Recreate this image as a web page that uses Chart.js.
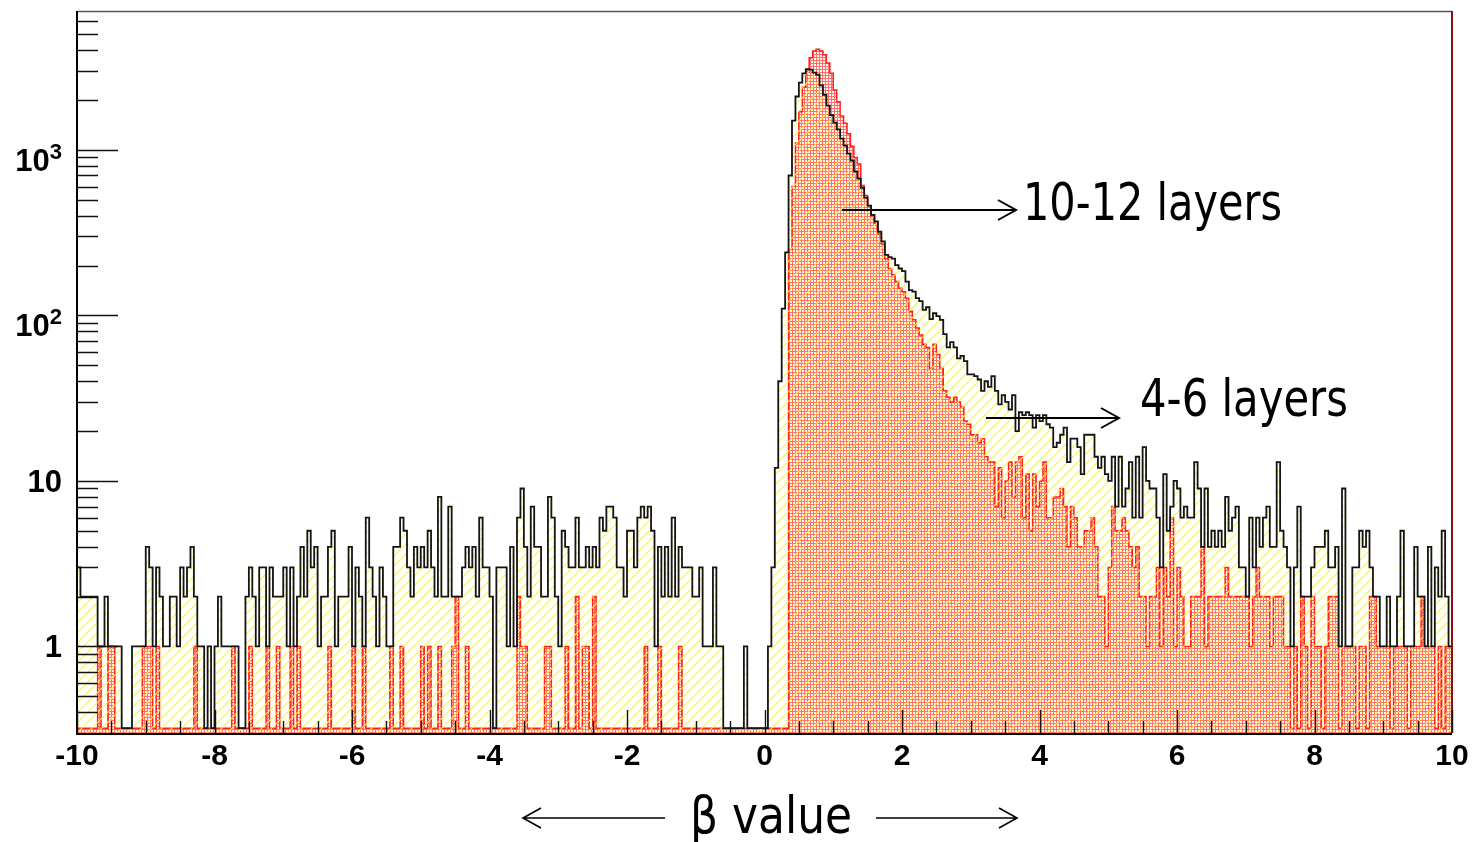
<!DOCTYPE html>
<html>
<head>
<meta charset="utf-8">
<script src="https://cdn.jsdelivr.net/npm/chart.js@4.4.1/dist/chart.umd.min.js"></script>
<style>
  html, body { margin: 0; padding: 0; background: #ffffff; }
  #wrap { width: 1482px; height: 842px; position: relative; }
  canvas { display: block; }
</style>
</head>
<body>
<div id="wrap"><canvas id="beta" width="1482" height="842"></canvas></div>
<script>
// Histogram binning of the beta value
const X_MIN = -10;
const X_MAX = 10;
const BIN_WIDTH = 0.05;
const Y_MIN = 0.321;
const Y_MAX = 6900;

// Axis tick labels
const xTickLabels = [-10, -8, -6, -4, -2, 0, 2, 4, 6, 8, 10];
const yTickLabels = [
  { value: 1, base: '1', exp: '' },
  { value: 10, base: '10', exp: '' },
  { value: 100, base: '10', exp: '2' },
  { value: 1000, base: '10', exp: '3' }
];

// Entries per bin, tracks with 4-6 layers, beta from -10 to 0
const layers46Neg = [
  3,2,2,2,2,2,1,1,2,1,1,1,1,0,0,0,1,1,1,1,
  4,3,1,3,2,1,1,2,2,1,3,2,3,4,2,1,1,0,1,0,
  1,2,1,1,1,1,1,0,0,2,3,2,1,3,3,1,3,2,2,2,
  3,1,3,1,2,4,2,5,3,4,1,2,2,4,5,1,2,2,2,4,
  1,3,2,1,6,3,2,1,3,2,1,1,4,4,6,5,3,2,4,3,
  4,3,5,3,2,8,2,2,7,2,2,2,3,4,3,4,2,6,3,3,
  2,0,3,3,3,1,4,1,6,9,4,2,7,4,4,2,2,8,6,2,
  1,5,4,3,3,6,3,3,4,3,4,3,6,5,7,7,6,3,3,2,
  5,5,3,6,7,6,7,5,1,4,2,4,2,6,2,4,3,3,3,2,
  2,3,1,1,1,3,1,1,0,0,0,0,0,0,1,0,0,0,0,0
];
// Entries per bin, tracks with 4-6 layers, beta from 0 to 10
const layers46Pos = [
  0,1,3,12,40,110,240,700,1500,2100,
  2550,2900,3070,3050,2930,2850,2450,2150,1850,1620,
  1460,1330,1170,1060,950,860,740,670,590,515,
  460,405,370,320,280,232,225,220,201,192,
  185,160,142,139,127,122,108,112,95,103,
  99,94,77,64,69,64,55,57,53,44,
  44,43,41,35,40,37,43,35,29,33,
  30,27,33,20,26,25,26,25,21,25,
  23,25,22,
  21,16,17,19,21,13,18,18,16,11,
  19,19,19,14,12,14,11,10,14,7,
  14,7,9,13,6,14,6,16,10,9,
  9,6,3,11,5,7,10,9,6,7,
  6,6,13,9,4,9,4,5,4,5,
  4,8,5,6,7,3,3,2,6,3,
  6,4,6,7,4,4,13,5,4,3,
  1,3,7,2,2,2,3,4,4,4,
  5,3,3,4,1,9,1,1,3,3,
  5,4,5,3,2,2,1,1,2,1,
  1,2,5,1,1,1,4,2,2,1,
  4,1,3,2,5,2,1
];

// Entries per bin, tracks with 10-12 layers, beta from -10 to 0
const layers1012Neg = [
  0,0,0,0,0,0,1,0,0,1,1,0,0,0,0,0,0,0,0,1,
  1,1,0,1,0,0,0,0,0,0,0,0,0,0,1,0,0,0,0,0,
  0,0,0,0,0,1,0,0,0,0,1,0,0,0,0,1,0,0,1,0,
  0,0,1,0,1,0,0,0,0,0,0,0,0,1,0,0,0,0,0,0,
  1,0,0,1,0,0,0,0,0,0,0,1,0,0,1,0,0,0,0,0,
  1,0,1,0,0,1,0,0,0,1,2,0,0,1,0,0,0,0,0,0,
  0,0,0,0,0,0,0,0,2,1,1,0,0,0,0,0,1,1,0,0,
  0,0,1,0,0,2,0,1,1,0,2,0,0,0,0,0,0,0,0,0,
  0,0,0,0,0,1,0,0,0,1,0,0,0,0,0,1,0,0,0,0,
  0,0,0,0,0,0,0,0,0,0,0,0,0,0,0,0,0,0,0,0
];
// Entries per bin, tracks with 10-12 layers, beta from 0 to 10
const layers1012Pos = [
  0,0,0,0,0,0,0,
  250,600,1100,1700,2400,3000,3600,3950,4050,3950,
  3750,3350,2900,2300,1950,1600,1450,1250,1050,900,
  820,610,530,460,400,360,310,270,
  220,192,176,160,146,139,127,106,94,84,
  76,67,64,48,67,58,48,35,32,30,
  32,30,28,23,22,19,19,17,18,14,13,
  13,7,12,6,10,13,8,13,14,6,11,5,11,7,10,13,6,
  6,8,8,9,7,4,7,6,4,4,
  5,5,6,4,2,2,1,3,7,5,
  5,6,5,4,3,4,2,2,1,2,
  2,3,1,3,2,6,1,3,2,1,
  1,2,2,2,4,1,2,2,2,2,
  2,3,2,2,2,2,2,2,1,2,
  3,2,2,2,1,2,2,2,1,1,
  0,1,0,2,1,0,2,1,1,0,
  1,2,2,2,0,1,1,1,1,0,
  1,1,0,2,2,1,1,1,1,0,
  1,1,1,1,0,1,1,1,2,1,
  1,1,0,1,0,1,1
];

const layers46 = layers46Neg.concat(layers46Pos);
const layers1012 = layers1012Neg.concat(layers1012Pos);

// Step points: one per lower bin edge plus the last upper edge.
// Empty bins sit on the axis floor (a log axis has no zero).
function toSteps(counts) {
  const floorOf = v => (v > 0 ? v : Y_MIN);
  const pts = counts.map((v, i) => ({ x: X_MIN + i * BIN_WIDTH, y: floorOf(v) }));
  pts.push({ x: X_MIN + counts.length * BIN_WIDTH, y: floorOf(counts[counts.length - 1]) });
  return pts;
}

// Fill styles: yellow diagonal hatch and red dotted mesh
function makeHatch() {
  const c = document.createElement('canvas');
  c.width = 10; c.height = 10;
  const g = c.getContext('2d');
  g.strokeStyle = '#ffff00';
  g.lineWidth = 1.1;
  g.beginPath();
  g.moveTo(-2, 12); g.lineTo(12, -2);
  g.moveTo(-7, 7); g.lineTo(7, -7);
  g.moveTo(3, 17); g.lineTo(17, 3);
  g.stroke();
  return g.createPattern(c, 'repeat');
}
function makeDots() {
  const c = document.createElement('canvas');
  c.width = 3; c.height = 3;
  const g = c.getContext('2d');
  g.fillStyle = '#fff6f4';
  g.fillRect(0, 0, 3, 3);
  g.fillStyle = '#ff7068';
  g.fillRect(0, 0, 3, 1);
  g.fillRect(0, 0, 1, 3);
  return g.createPattern(c, 'repeat');
}

function arrowLine(ctx, x0, x1, y, headAtEnd) {
  ctx.beginPath();
  ctx.moveTo(x0, y);
  ctx.lineTo(x1, y);
  const hx = headAtEnd ? x1 : x0;
  const d = headAtEnd ? -18 : 18;
  ctx.moveTo(hx + d, y - 10);
  ctx.lineTo(hx, y);
  ctx.lineTo(hx + d, y + 10);
  ctx.stroke();
}

function fittedText(ctx, text, x, baseline, size, width) {
  ctx.save();
  ctx.font = size + 'px "DejaVu Sans", "Noto Sans", sans-serif';
  ctx.textAlign = 'left';
  ctx.textBaseline = 'alphabetic';
  const w = ctx.measureText(text).width;
  ctx.translate(x, baseline);
  ctx.scale(width / w, 1);
  ctx.fillStyle = '#000';
  ctx.fillText(text, 0, 0);
  ctx.restore();
}

// Frame, ROOT-style ticks, tick labels and annotations
const frameAndLabels = {
  id: 'frameAndLabels',
  afterDatasetsDraw(chart) {
    const ctx = chart.ctx;
    const xs = chart.scales.x, ys = chart.scales.y;
    const L = chart.chartArea.left, R = chart.chartArea.right;
    const T = chart.chartArea.top, B = chart.chartArea.bottom;
    ctx.save();

    // frame
    ctx.lineCap = 'butt';
    ctx.strokeStyle = '#555';
    ctx.lineWidth = 1.5;
    ctx.beginPath(); ctx.moveTo(L, T + 0.5); ctx.lineTo(R, T + 0.5); ctx.stroke();
    ctx.strokeStyle = '#8b1010';
    ctx.lineWidth = 2;
    ctx.beginPath(); ctx.moveTo(R, T); ctx.lineTo(R, B); ctx.stroke();
    ctx.strokeStyle = '#000';
    ctx.lineWidth = 2;
    ctx.beginPath(); ctx.moveTo(L, T); ctx.lineTo(L, B + 1); ctx.lineTo(R, B + 1); ctx.stroke();

    // y ticks (log): long at decades, short at 2..9
    ctx.strokeStyle = '#111';
    ctx.lineWidth = 1.4;
    ctx.beginPath();
    for (let d = -1; d <= 3; d++) {
      for (let m = 1; m <= 9; m++) {
        const v = m * Math.pow(10, d);
        if (v < Y_MIN || v > Y_MAX) continue;
        const y = Math.round(ys.getPixelForValue(v)) + 0.5;
        const len = m === 1 ? 41 : 21;
        ctx.moveTo(L, y); ctx.lineTo(L + len, y);
      }
    }
    ctx.stroke();

    // x ticks every 0.5, long every 2
    ctx.beginPath();
    for (let k = -20; k <= 20; k++) {
      const t = k / 2;
      const x = Math.round(xs.getPixelForValue(t)) + 0.5;
      const len = (k % 4 === 0) ? 23 : 12;
      ctx.moveTo(x, B); ctx.lineTo(x, B - len);
    }
    ctx.stroke();

    // x tick labels
    ctx.fillStyle = '#000';
    ctx.font = 'bold 30px "Liberation Sans", Arial, sans-serif';
    ctx.textAlign = 'center';
    ctx.textBaseline = 'alphabetic';
    xTickLabels.forEach(v => {
      ctx.fillText(String(v), xs.getPixelForValue(v), 765);
    });

    // y tick labels with exponents
    ctx.textAlign = 'right';
    yTickLabels.forEach(lab => {
      const y = ys.getPixelForValue(lab.value);
      if (lab.exp) {
        ctx.font = 'bold 22px "Liberation Sans", Arial, sans-serif';
        const ew = ctx.measureText(lab.exp).width;
        ctx.fillText(lab.exp, 62, y + 9);
        ctx.font = 'bold 31px "Liberation Sans", Arial, sans-serif';
        ctx.fillText(lab.base, 62 - ew, y + 21);
      } else {
        ctx.font = 'bold 31px "Liberation Sans", Arial, sans-serif';
        ctx.fillText(lab.base, 62, y + 11);
      }
    });

    // annotations
    ctx.strokeStyle = '#000';
    ctx.lineWidth = 2;
    arrowLine(ctx, 842, 1016, 210, true);
    fittedText(ctx, '10-12 layers', 1023, 220, 51, 259);
    arrowLine(ctx, 986, 1119, 418, true);
    fittedText(ctx, '4-6 layers', 1140, 416, 51, 208);

    // axis title with arrows
    ctx.lineWidth = 1.6;
    arrowLine(ctx, 523, 665, 818, false);
    arrowLine(ctx, 876, 1017, 818, true);
    fittedText(ctx, '\u03b2 value', 690, 833, 52, 162);

    ctx.restore();
  }
};

const ctx = document.getElementById('beta').getContext('2d');
new Chart(ctx, {
  type: 'line',
  data: {
    datasets: [
      {
        label: '4-6 layers',
        data: toSteps(layers46),
        stepped: true,
        borderColor: '#141414',
        borderWidth: 1.8,
        backgroundColor: makeHatch(),
        fill: 'start',
        pointRadius: 0,
        tension: 0
      },
      {
        label: '10-12 layers',
        data: toSteps(layers1012),
        stepped: true,
        borderColor: '#ff1f1f',
        borderWidth: 1.5,
        backgroundColor: makeDots(),
        fill: 'start',
        pointRadius: 0,
        tension: 0
      }
    ]
  },
  options: {
    responsive: false,
    animation: false,
    devicePixelRatio: 1,
    events: [],
    layout: { padding: { left: 77, top: 11, right: 30, bottom: 109 } },
    scales: {
      x: { type: 'linear', min: X_MIN, max: X_MAX, display: false },
      y: { type: 'logarithmic', min: Y_MIN, max: Y_MAX, display: false }
    },
    plugins: {
      legend: { display: false },
      tooltip: { enabled: false }
    }
  },
  plugins: [frameAndLabels]
});
</script>
</body>
</html>
